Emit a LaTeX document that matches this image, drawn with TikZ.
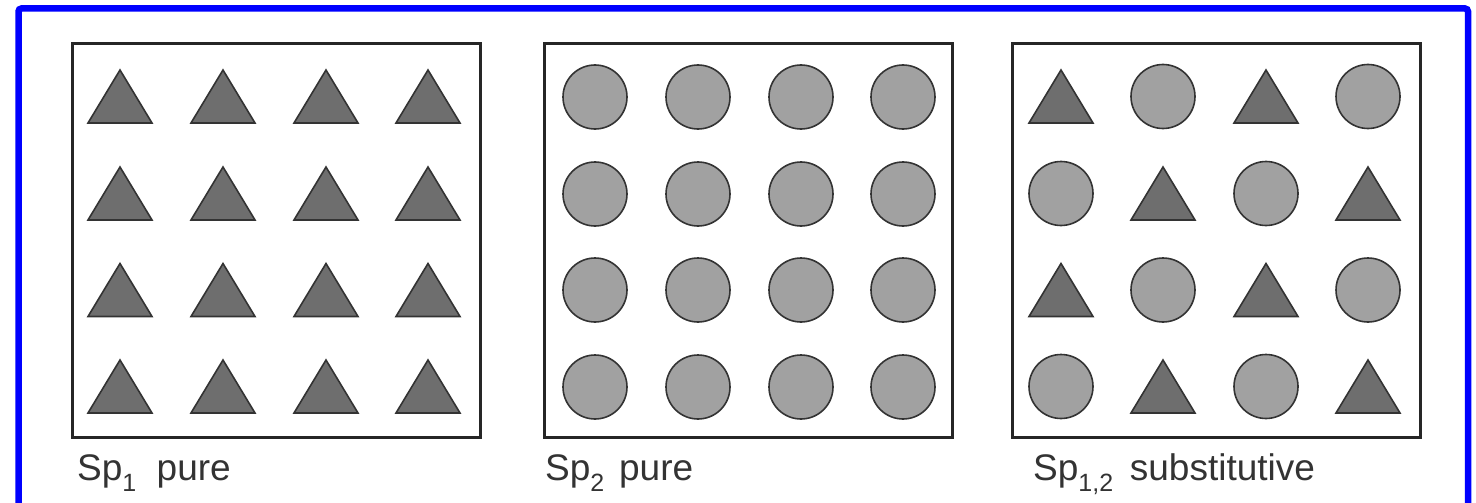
\documentclass[tikz,border=0pt]{standalone}
\usepackage{fontspec}
\setmainfont{Liberation Sans}
\begin{document}
\begin{tikzpicture}[x=1pt,y=-1pt,
  frame/.style={draw=blue, line width=6.5pt, rounded corners=3pt},
  panel/.style={draw=black!85, line width=3pt},
  tri/.style={draw=black!80, line width=1.6pt, fill=black!57, line join=miter},
  disc/.style={draw=black!80, line width=1.6pt, fill=black!37},
  caption/.style={anchor=base west, inner sep=0pt, font=\fontsize{37}{42}\selectfont, text=black!80}]
\useasboundingbox (0,0) rectangle (1476,503);
\clip (0,0) rectangle (1476,503);
% outer frame
\draw[frame] (18.5,8.5) rectangle (1468,530);
% three panels
\draw[panel] (72,44) rectangle (480,437);
\draw[panel] (544,44) rectangle (952,437);
\draw[panel] (1012,44) rectangle (1420,437);
% triangle and disc shapes
\newcommand\triat[2]{\draw[tri] (#1,#2-26.5) -- (#1+32,#2+26.5) -- (#1-32,#2+26.5) -- cycle;}
\newcommand\discat[2]{\draw[disc] (#1,#2) circle (32);}
\newcommand\subtxt[1]{\raisebox{-0.3em}{\fontsize{25}{28}\selectfont #1}}
% panel 1: species 1 only
\foreach \y in {96.5,193.5,290,386.5}
  \foreach \x in {120,223,326,428} {\triat{\x}{\y}}
% panel 2: species 2 only
\foreach \y in {97,194,290,387}
  \foreach \x in {595,698,801,903} {\discat{\x}{\y}}
% panel 3: alternating species
\foreach \y [count=\r] in {96.5,193.5,290,386.5}
  \foreach \x [count=\c] in {1061,1163,1266,1368} {
    \pgfmathparse{int(mod(\r+\c,2))}
    \ifnum\pgfmathresult=0 \triat{\x}{\y}\else\discat{\x}{\y}\fi
  }
% captions
\node[caption] (c1) at (77,480) {Sp\subtxt{1}\hspace{0.55em}pure};
\node[caption] (c2) at (545,480) {Sp\subtxt{2}\hspace{0.4em}pure};
\node[caption] (c3) at (1033,480) {Sp\subtxt{1,2}\hspace{0.45em}substitutive};
\end{tikzpicture}
\end{document}
